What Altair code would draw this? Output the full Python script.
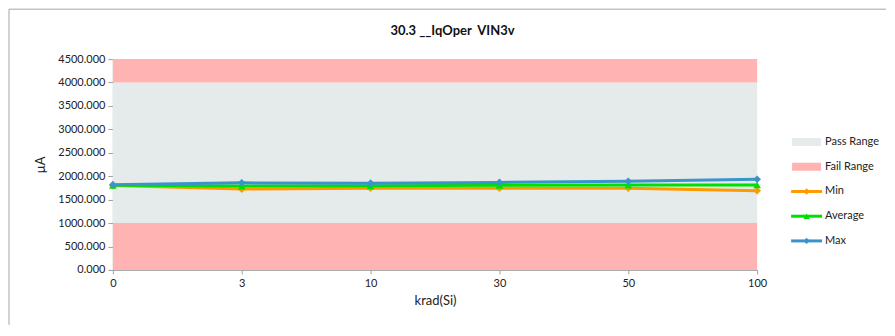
import altair as alt
import pandas as pd

# ---- data ----
krad = ["0", "3", "10", "30", "50", "100"]
min_vals = [1800, 1725, 1745, 1745, 1745, 1690]
avg_vals = [1805, 1790, 1795, 1805, 1810, 1812]
max_vals = [1820, 1858, 1850, 1868, 1892, 1935]

band_lo = [0, 1000, 4000]
band_hi = [1000, 4000, 4500]
band_kind = ["Fail Range", "Pass Range", "Fail Range"]

series_names = ["Min", "Average", "Max"]
series_colors = ["#FF9900", "#00E000", "#3A94C9"]
series_shapes = ["diamond", "triangle-up", "diamond"]
range_names = ["Pass Range", "Fail Range"]
range_colors = ["#E5EAEA", "#FFB3B3"]

FONT = "Lato"
W, H = 645, 211

line_df = pd.concat([
    pd.DataFrame({"krad": krad, "value": v, "series": n})
    for n, v in zip(series_names, [min_vals, avg_vals, max_vals])
])
band_df = pd.DataFrame({"lo": band_lo, "hi": band_hi, "kind": band_kind})

xenc = alt.X("krad:N", sort=krad, scale=alt.Scale(type="point", padding=0),
             axis=alt.Axis(title="krad(Si)", labelAngle=0, domainColor="#A0A0A0",
                           tickColor="#A0A0A0", tickSize=4, labelPadding=4,
                           titlePadding=6, labelFontSize=11, titleFontSize=13,
                           titleFontWeight="normal", labelColor="#222", titleColor="#222"))
yscale = alt.Scale(domain=[0, 4500], nice=False)
yaxis = alt.Axis(title="µA", values=list(range(0, 4501, 500)), format=".3f",
                 domainColor="#A0A0A0", tickColor="#A0A0A0", tickSize=5,
                 labelPadding=3, titlePadding=10, labelFontSize=11, titleFontSize=13,
                 titleFontWeight="normal", grid=False, labelColor="#222", titleColor="#222")

bands = alt.Chart(band_df).mark_rect().encode(
    x=alt.value(0), x2=alt.value(W),
    y=alt.Y("lo:Q", scale=yscale, axis=yaxis), y2="hi:Q",
    color=alt.Color("kind:N", scale=alt.Scale(domain=range_names, range=range_colors), legend=None),
)

layers = [bands]
for n, c, s in zip(series_names, series_colors, series_shapes):
    d = line_df[line_df.series == n]
    base = alt.Chart(d).encode(x=xenc, y=alt.Y("value:Q", scale=yscale, axis=yaxis))
    layers.append(base.mark_line(color=c, strokeWidth=3))
    layers.append(base.mark_point(color=c, filled=True, shape=s, size=60, opacity=1))

# ---- manual legend (to the right of the plot) ----
leg_x0, leg_x1, leg_y0, leg_dy = 679, 710, 83, 24.75
leg_names = range_names + series_names
leg_colors = range_colors + series_colors
leg_df = pd.DataFrame({
    "name": leg_names,
    "color": leg_colors,
    "py": [leg_y0 + i * leg_dy for i in range(len(leg_names))],
})
rng = leg_df.iloc[:2]
lns = leg_df.iloc[2:].assign(shape=series_shapes)

leg_rect = alt.Chart(rng).mark_rect().encode(
    x=alt.value(leg_x0 + 1), x2=alt.value(leg_x1 - 1),
    y=alt.Y("y0:Q", scale=None), y2=alt.Y2("y1:Q"),
    color=alt.Color("color:N", scale=None),
).transform_calculate(y0="datum.py - 4", y1="datum.py + 4")
leg_line = alt.Chart(lns).mark_rule(strokeWidth=3).encode(
    x=alt.value(leg_x0), x2=alt.value(leg_x1),
    y=alt.Y("py:Q", scale=None),
    color=alt.Color("color:N", scale=None),
)
leg_pt = alt.Chart(lns).mark_point(filled=True, size=40, opacity=1).encode(
    x=alt.value((leg_x0 + leg_x1) / 2),
    y=alt.Y("py:Q", scale=None),
    color=alt.Color("color:N", scale=None),
    shape=alt.Shape("shape:N", scale=None),
)
leg_text = alt.Chart(leg_df).mark_text(align="left", baseline="middle", font=FONT,
                                       fontSize=11, color="#222").encode(
    x=alt.value(leg_x1 + 3), y=alt.Y("py:Q", scale=None), text="name:N",
)

# ---- title and outer frame ----
title = alt.Chart(pd.DataFrame({"t": ["30.3 __IqOper \u00a0VIN3v"]})).mark_text(
    font=FONT, fontSize=13, fontWeight="bold", color="#111", align="center", baseline="middle"
).encode(x=alt.value(340), y=alt.value(-28), text="t:N")
frame_top = alt.Chart(pd.DataFrame({"a": [0]})).mark_rule(color="#A6A6A6", strokeWidth=1).encode(
    x=alt.value(-104), x2=alt.value(774), y=alt.value(-50))
frame_left = alt.Chart(pd.DataFrame({"a": [0]})).mark_rule(color="#A6A6A6", strokeWidth=1).encode(
    x=alt.value(-104), y=alt.value(-50), y2=alt.value(266))

chart = alt.layer(*layers, leg_rect, leg_line, leg_pt, leg_text, title, frame_top, frame_left).properties(
    width=W, height=H, padding=0, background="white"
).configure_view(stroke=None).configure_axis(labelFont=FONT, titleFont=FONT)

chart.save("out.html", embed_options={"renderer": "svg", "actions": False})
